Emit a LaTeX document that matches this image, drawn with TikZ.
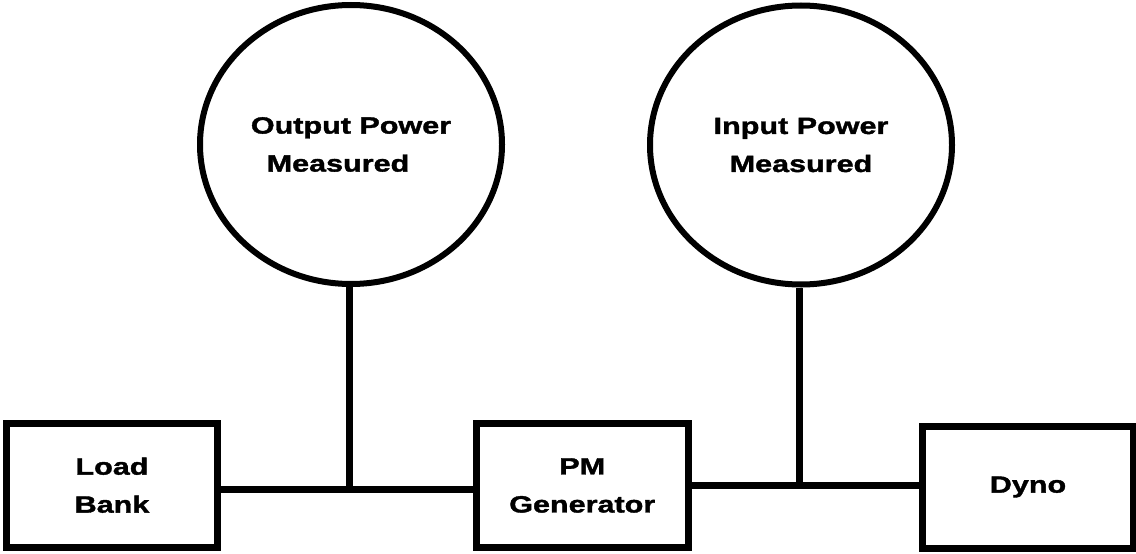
\documentclass[tikz,border=0pt]{standalone}
\usepackage{fontspec}
\newfontfamily\lblfont{Liberation Sans}[FakeStretch=1.3, FakeBold=1.6]
\usetikzlibrary{shapes.geometric}
\tikzset{
  lbl/.style={font=\lblfont\bfseries\fontsize{23.5}{38}\selectfont, align=center, text=black},
  blockbox/.style={lbl, draw=black, line width=7pt, rectangle, inner sep=0pt},
  meter/.style={lbl, draw=black, line width=6pt, ellipse, inner sep=0pt, minimum width=302pt, minimum height=279pt},
  wire/.style={draw=black, line width=7pt},
}
\begin{document}
\begin{tikzpicture}[x=1pt, y=-1pt]
\useasboundingbox[fill=white] (0,0) rectangle (1136,554);
% measurement circles
\node[meter] (out) at (351,144.5) {Output Power\\Measured\hspace*{26pt}};
\node[meter] (in) at (801,145) {Input Power\\Measured};
% blocks
\node[blockbox, minimum width=211pt, minimum height=123.5pt] (lb) at (112,485.25) {Load\\Bank};
\node[blockbox, minimum width=211.5pt, minimum height=124pt] (pm) at (582.25,485.5) {PM\\Generator};
\node[blockbox, minimum width=211pt, minimum height=122pt] (dy) at (1028,487) {Dyno};
% junctions
\coordinate (j1) at (349.5,489.5);
\coordinate (j2) at (799.5,485.5);
% connectors
\draw[wire] (lb.east |- j1) -- (j1) -- (pm.west |- j1);
\draw[wire] (pm.east |- j2) -- (j2) -- (dy.west |- j2);
\draw[wire] (j1 |- out.south) -- (j1);
\draw[wire] (j2 |- in.south) -- (j2);
\end{tikzpicture}
\end{document}
